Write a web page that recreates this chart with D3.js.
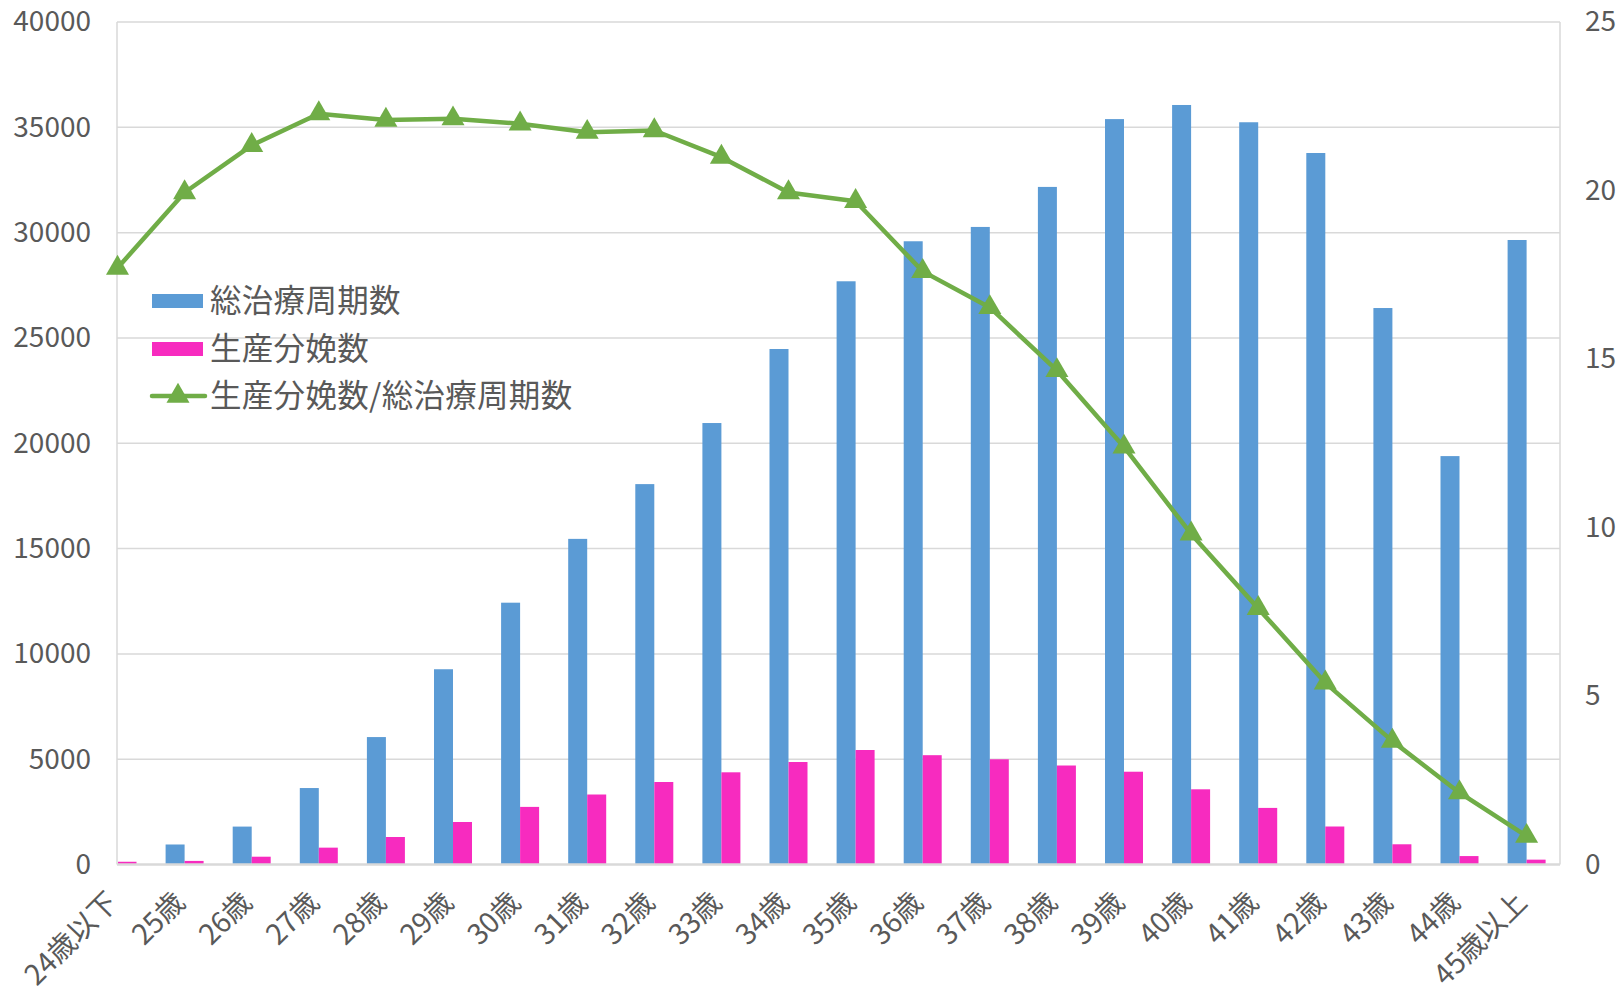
<!DOCTYPE html>
<html>
<head>
<meta charset="utf-8">
<script src="https://cdn.jsdelivr.net/npm/d3@7"></script>
<style>
  html, body { margin: 0; padding: 0; background: #fff; }
  svg { display: block; }
  text { font-family: "Noto Sans CJK JP", "Noto Sans", sans-serif; fill: #595959; }
</style>
</head>
<body>
<svg id="chart" width="1622" height="994"></svg>
<script>
// ---- data ----
const categories = ["24歳以下","25歳","26歳","27歳","28歳","29歳","30歳","31歳","32歳","33歳","34歳","35歳","36歳","37歳","38歳","39歳","40歳","41歳","42歳","43歳","44歳","45歳以上"];
const totalCycles = [750, 950, 1800, 3630, 6050, 9270, 12430, 15460, 18060, 20960, 24475, 27690, 29590, 30270, 32170, 35390, 36060, 35240, 33780, 26420, 19390, 29650];
const liveBirths = [130, 170, 370, 800, 1305, 2018, 2735, 3323, 3917, 4377, 4866, 5436, 5190, 4995, 4700, 4405, 3570, 2687, 1804, 960, 400, 230];
const ratio = [17.7, 19.94, 21.34, 22.28, 22.09, 22.13, 21.98, 21.73, 21.78, 20.99, 19.94, 19.68, 17.60, 16.53, 14.66, 12.39, 9.81, 7.60, 5.39, 3.66, 2.13, 0.84];
const leftTicks = [0, 5000, 10000, 15000, 20000, 25000, 30000, 35000, 40000];
const rightTicks = [0, 5, 10, 15, 20, 25];
const seriesNames = ["総治療周期数", "生産分娩数", "生産分娩数/総治療周期数"];

// ---- layout ----
const plotL = 117, plotR = 1560, plotT = 22, plotB = 864.5;
const colBlue = "#5B9BD5", colPink = "#F72BBF", colGreen = "#70AD47", gridCol = "#D9D9D9";

const svg = d3.select("#chart");

const x = d3.scalePoint().domain(categories).range([117.5, 1526.6]);
const yL = d3.scaleLinear().domain([0, 40000]).range([plotB, plotT]);
const yR = d3.scaleLinear().domain([0, 25]).range([plotB, plotT]);
const barW = 19;

// clip
svg.append("defs").append("clipPath").attr("id", "plotclip")
  .append("rect").attr("x", plotL + 1).attr("y", plotT - 30).attr("width", plotR - plotL - 1).attr("height", plotB - plotT + 30);

// gridlines
svg.append("g").selectAll("line").data(leftTicks.filter(d => d > 0)).join("line")
  .attr("x1", plotL).attr("x2", plotR)
  .attr("y1", d => yL(d)).attr("y2", d => yL(d))
  .attr("stroke", gridCol).attr("stroke-width", 1.5);
// side borders
svg.append("line").attr("x1", plotL).attr("x2", plotL).attr("y1", plotT).attr("y2", plotB)
  .attr("stroke", gridCol).attr("stroke-width", 1.5);
svg.append("line").attr("x1", plotR).attr("x2", plotR).attr("y1", plotT).attr("y2", plotB)
  .attr("stroke", gridCol).attr("stroke-width", 1.5);

// bars
const bars = svg.append("g").attr("clip-path", "url(#plotclip)");
bars.selectAll("rect.blue").data(categories).join("rect").attr("class", "blue")
  .attr("x", d => x(d) - barW).attr("width", barW)
  .attr("y", (d, i) => yL(totalCycles[i])).attr("height", (d, i) => plotB - yL(totalCycles[i]))
  .attr("fill", colBlue);
bars.selectAll("rect.pink").data(categories).join("rect").attr("class", "pink")
  .attr("x", d => x(d)).attr("width", barW)
  .attr("y", (d, i) => yL(liveBirths[i])).attr("height", (d, i) => plotB - yL(liveBirths[i]))
  .attr("fill", colPink);

// bottom axis line
svg.append("line").attr("x1", plotL).attr("x2", plotR).attr("y1", plotB).attr("y2", plotB)
  .attr("stroke", gridCol).attr("stroke-width", 2.5);

// left axis labels
const axL = d3.axisLeft(yL).tickValues(leftTicks).tickSize(0).tickPadding(0).tickFormat(d3.format("d"));
const gL = svg.append("g").attr("transform", "translate(91,0)").call(axL);
gL.select(".domain").remove();
gL.selectAll("text").attr("font-size", 28).attr("fill", "#595959")
  .style("font-family", '"Noto Sans CJK JP", sans-serif');

// right axis labels
const axR = d3.axisRight(yR).tickValues(rightTicks).tickSize(0).tickPadding(0).tickFormat(d3.format("d"));
const gR = svg.append("g").attr("transform", "translate(1585,0)").call(axR);
gR.select(".domain").remove();
gR.selectAll("text").attr("font-size", 28).attr("fill", "#595959")
  .style("font-family", '"Noto Sans CJK JP", sans-serif');

// x labels
svg.append("g").selectAll("text").data(categories).join("text")
  .attr("transform", d => `translate(${x(d) - 5},897) rotate(-45)`)
  .attr("text-anchor", "end").attr("dy", "0.35em")
  .attr("font-size", 28.5)
  .text(d => d);

// line
const line = d3.line().x((d, i) => x(categories[i])).y(d => yR(d));
svg.append("path").datum(ratio).attr("d", line)
  .attr("fill", "none").attr("stroke", colGreen).attr("stroke-width", 4.5).attr("stroke-linejoin", "round");
const tri = d3.symbol().type(d3.symbolTriangle).size(230);
svg.append("g").selectAll("path").data(ratio).join("path")
  .attr("transform", (d, i) => `translate(${x(categories[i])},${yR(d)})`)
  .attr("d", tri).attr("fill", colGreen);

// legend
const lg = svg.append("g");
const rows = [301, 349, 396];
lg.append("rect").attr("x", 152).attr("y", rows[0] - 7).attr("width", 51).attr("height", 14).attr("fill", colBlue);
lg.append("rect").attr("x", 152).attr("y", rows[1] - 7).attr("width", 51).attr("height", 14).attr("fill", colPink);
lg.append("line").attr("x1", 152).attr("x2", 205).attr("y1", rows[2]).attr("y2", rows[2])
  .attr("stroke", colGreen).attr("stroke-width", 4.5).attr("stroke-linecap", "round");
lg.append("path").attr("transform", `translate(178,${rows[2]})`).attr("d", tri).attr("fill", colGreen);
lg.selectAll("text").data(seriesNames).join("text")
  .attr("x", 210).attr("y", (d, i) => rows[i]).attr("dy", "0.35em")
  .attr("font-size", 31.5).attr("letter-spacing", 0.3).text(d => d);
</script>
</body>
</html>
